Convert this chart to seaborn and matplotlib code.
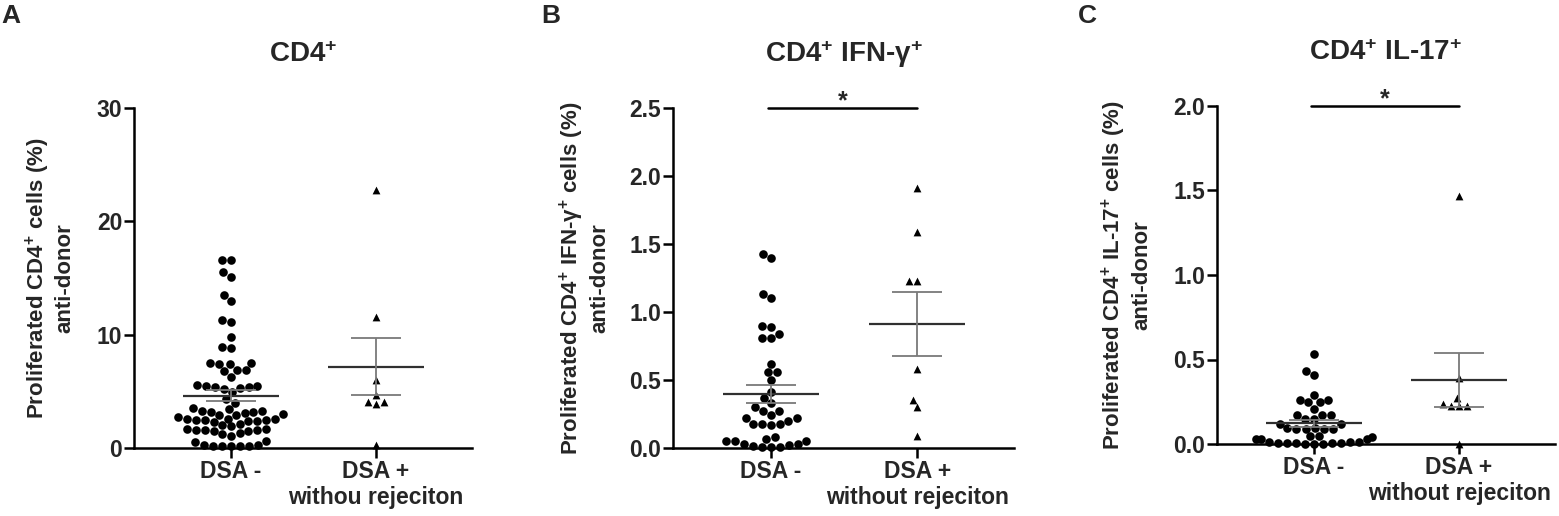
import numpy as np
import pandas as pd
import matplotlib
matplotlib.use('Agg')
import matplotlib.pyplot as plt
import seaborn as sns
import warnings

warnings.filterwarnings('ignore')

# ---------------------------------------------------------------
# Data
# ---------------------------------------------------------------
GROUPS_A = ['DSA -', 'DSA +\nwithou rejeciton']
GROUPS_BC = ['DSA -', 'DSA +\nwithout rejeciton']

cd4_dsa_neg = [16.6, 16.6, 15.5, 15.1, 13.5, 13.0, 11.3, 11.1, 9.8, 8.9, 8.8,
               7.5, 7.5, 7.4, 7.4, 6.9, 6.9, 6.8, 6.3,
               5.6, 5.5, 5.5, 5.4, 5.4, 5.3, 5.2, 4.9,
               4.3, 4.0,
               3.5, 3.4, 3.3, 3.3, 3.2, 3.2, 3.1,
               3.0, 2.9, 2.9,
               2.7, 2.6, 2.6, 2.6, 2.5, 2.5, 2.5, 2.4, 2.4, 2.3,
               2.1, 2.0, 1.9,
               1.7, 1.7, 1.6, 1.6, 1.6, 1.5, 1.5,
               1.3, 1.2, 1.1,
               0.6, 0.5,
               0.3, 0.3, 0.2, 0.2, 0.2, 0.2, 0.2]
cd4_dsa_pos = [22.8, 11.6, 6.0, 4.7, 4.1, 3.9, 4.1, 0.3]

ifng_dsa_neg = [1.43, 1.40, 1.13, 1.10, 0.90, 0.89, 0.84, 0.81, 0.81, 0.62,
                0.56, 0.56, 0.50, 0.41, 0.37, 0.33, 0.30, 0.27, 0.27, 0.24,
                0.22, 0.22, 0.20, 0.18, 0.18, 0.18, 0.17, 0.08, 0.065, 0.05,
                0.05, 0.05, 0.03, 0.03, 0.025, 0.015, 0.01, 0.01, 0.01]
ifng_dsa_pos = [1.91, 1.59, 1.23, 1.23, 0.58, 0.35, 0.30, 0.09]

il17_dsa_neg = [0.53, 0.43, 0.41, 0.29, 0.26, 0.26, 0.25, 0.25, 0.21, 0.17,
                0.17, 0.17, 0.15, 0.15, 0.12, 0.12, 0.095, 0.095, 0.09, 0.09,
                0.09, 0.09, 0.05, 0.045, 0.04, 0.03, 0.03, 0.03, 0.01, 0.01,
                0.005, 0.005, 0.005, 0.0, 0.0, 0.005, 0.01, 0.005, 0.0]
il17_dsa_pos = [1.47, 0.39, 0.27, 0.235, 0.225, 0.225, 0.225, 0.0]

TICKS_A = [0, 10, 20, 30]
TICKS_B = [0.0, 0.5, 1.0, 1.5, 2.0, 2.5]
TICKS_C = [0.0, 0.5, 1.0, 1.5, 2.0]

# ---------------------------------------------------------------
# Style
# ---------------------------------------------------------------
sns.set_style('ticks')
plt.rcParams['font.family'] = ['Liberation Sans', 'DejaVu Sans']
plt.rcParams['font.weight'] = 'bold'
plt.rcParams['mathtext.fontset'] = 'custom'
plt.rcParams['mathtext.rm'] = 'Liberation Sans:bold'
plt.rcParams['mathtext.bf'] = 'Liberation Sans:bold'
plt.rcParams['mathtext.default'] = 'rm'

FS = 16


def draw_panel(ax, neg, pos, groups, title, ylabel, ticks, tick_fmt, label_x, sig=False):
    df = pd.DataFrame({'group': [groups[0]] * len(neg) + [groups[1]] * len(pos),
                       'value': neg + pos})
    ax.set_xlim(-0.669, 1.662)
    ax.set_ylim(ticks[0], ticks[-1])
    sns.swarmplot(data=df[df['group'] == groups[0]], x='group', y='value', order=groups,
                  color='black', marker='o', size=6.2, ax=ax, zorder=2)
    sns.swarmplot(data=df[df['group'] == groups[1]], x='group', y='value', order=groups,
                  color='black', marker='^', size=5.6, ax=ax, zorder=2)
    for coll in ax.collections:
        coll.set_clip_on(False)

    # mean +/- SEM
    for i, vals in enumerate([neg, pos]):
        m = np.mean(vals)
        se = np.std(vals, ddof=1) / np.sqrt(len(vals))
        ax.hlines(m, i - 0.33, i + 0.33, color='#303030', lw=1.6, zorder=3)
        ax.hlines([m - se, m + se], i - 0.17, i + 0.17, color='#7a7a7a', lw=1.3, zorder=3)
        ax.vlines(i, m - se, m + se, color='#7a7a7a', lw=1.3, zorder=3)

    ax.set_xlim(-0.669, 1.662)
    ax.set_ylim(ticks[0], ticks[-1])
    ax.set_yticks(ticks)
    ax.set_yticklabels([tick_fmt.format(t) for t in ticks], fontsize=FS + 0.5, fontweight='bold')
    ax.set_xticks([0, 1])
    ax.set_xticklabels(groups, fontsize=FS + 0.5, fontweight='bold')
    ax.set_xlabel('')
    ax.set_ylabel(ylabel, fontsize=FS, fontweight='bold')
    ax.yaxis.set_label_coords(label_x, 0.5)
    ax.set_title(title, fontsize=20, fontweight='bold', pad=33)

    sns.despine(ax=ax)
    for side in ['left', 'bottom']:
        ax.spines[side].set_linewidth(1.8)
        ax.spines[side].set_color('black')
    ax.tick_params(axis='both', length=7, width=1.8, pad=1.5, color='black')

    if sig:
        top = ticks[-1]
        ax.plot([-0.02, 1.0], [top, top], color='black', lw=1.8, clip_on=False)
        ax.text(0.49, top, '*', ha='center', va='baseline', fontsize=18, fontweight='bold')


fig = plt.figure(figsize=(15.59, 5.16), dpi=100)
ax_a = fig.add_axes([134 / 1559, 1 - 448 / 516, 338 / 1559, 340 / 516])
ax_b = fig.add_axes([673 / 1559, 1 - 448 / 516, 341 / 1559, 340 / 516])
ax_c = fig.add_axes([1217 / 1559, 1 - 444 / 516, 338 / 1559, 338 / 516])

draw_panel(ax_a, cd4_dsa_neg, cd4_dsa_pos, GROUPS_A, 'CD4$^{+}$',
           'Proliferated CD4$^{+}$ cells (%)\nanti-donor', TICKS_A, '{:.0f}', -0.172)
draw_panel(ax_b, ifng_dsa_neg, ifng_dsa_pos, GROUPS_BC, 'CD4$^{+}$ IFN-γ$^{+}$',
           'Proliferated CD4$^{+}$ IFN-γ$^{+}$ cells (%)\nanti-donor', TICKS_B, '{:.1f}', -0.185,
           sig=True)
draw_panel(ax_c, il17_dsa_neg, il17_dsa_pos, GROUPS_BC, 'CD4$^{+}$ IL-17$^{+}$',
           'Proliferated CD4$^{+}$ IL-17$^{+}$ cells (%)\nanti-donor', TICKS_C, '{:.1f}', -0.192,
           sig=True)

for letter, xpx in [('A', 1), ('B', 541), ('C', 1078)]:
    fig.text(xpx / 1559, 1 - 16 / 516, letter, fontsize=19, fontweight='bold',
             ha='left', va='center')

fig.savefig('out.png', dpi=100)
